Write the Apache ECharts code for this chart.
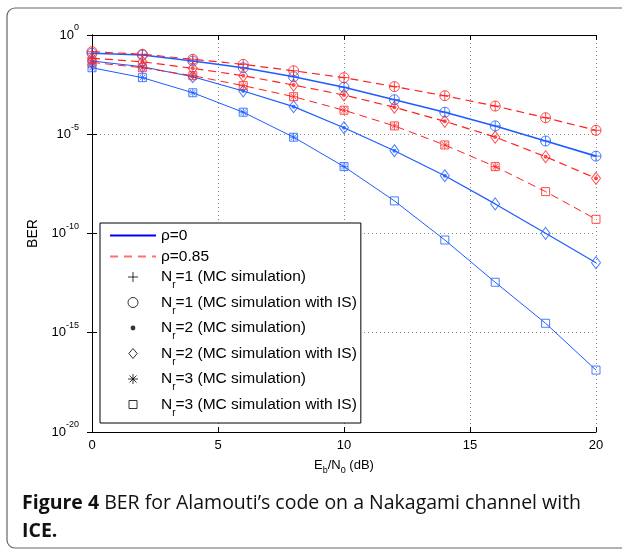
<!DOCTYPE html>
<html>
<head>
<meta charset="utf-8">
<script src="https://cdn.jsdelivr.net/npm/echarts@6/dist/echarts.min.js"></script>
<style>
html, body {margin: 0; padding: 0; background: #fff;}
#main {width: 622px; height: 550px;}
</style>
</head>
<body>
<div id="main"></div>
<script>
// Eb/N0 (dB)
let snr = [0, 2, 4, 6, 8, 10, 12, 14, 16, 18, 20];

// rho = 0 (solid blue)
let berRho0Nr1 = [0.120, 0.0977, 0.049, 0.0224, 7.9e-3, 2.34e-3, 5.5e-4, 1.29e-4, 2.63e-5, 4.57e-6, 7.9e-7];
let berRho0Nr2 = [0.049, 0.0251, 7.9e-3, 1.51e-3, 2.45e-4, 2.14e-5, 1.48e-6, 8.1e-8, 3.1e-9, 1.02e-10, 3.4e-12];
let berRho0Nr3 = [0.0224, 7.1e-3, 1.23e-3, 1.29e-4, 7.1e-6, 2.34e-7, 4.4e-9, 4.7e-11, 3.5e-13, 3.0e-15, 1.32e-17];

// rho = 0.85 (dashed red)
let berRho85Nr1 = [0.145, 0.107, 0.060, 0.0331, 0.0158, 7.1e-3, 2.5e-3, 8.7e-4, 2.63e-4, 6.8e-5, 1.58e-5];
let berRho85Nr2 = [0.0676, 0.0447, 0.0209, 8.9e-3, 3.0e-3, 9.5e-4, 2.29e-4, 4.47e-5, 7.2e-6, 7.4e-7, 6.0e-8];
let berRho85Nr3 = [0.0417, 0.0224, 8.9e-3, 2.82e-3, 7.8e-4, 1.62e-4, 2.63e-5, 2.88e-6, 2.34e-7, 1.29e-8, 5.2e-10];

// how many snr points also carry a plain MC marker (Nr = 1, 2, 3)
let mcCountRho0 = [11, 8, 6];
let mcCountRho85 = [11, 11, 9];

let yTicks = [1, 1e-5, 1e-10, 1e-15, 1e-20];

let legendNames = ['ρ=0', 'ρ=0.85',
    'Nr=1 (MC simulation)', 'Nr=1 (MC simulation with IS)',
    'Nr=2 (MC simulation)', 'Nr=2 (MC simulation with IS)',
    'Nr=3 (MC simulation)', 'Nr=3 (MC simulation with IS)'];

let blue = '#1d5cff', red = '#ff2020';
let axisFont = 'Liberation Sans, Arial, sans-serif';

let plusPath = 'path://M5,0L5,10M0,5L10,5';
let starPath = 'path://M5,0L5,10M0,5L10,5M1.5,1.5L8.5,8.5M8.5,1.5L1.5,8.5';
let dotPath = 'path://M0,0M10,10M5,2.6A2.4,2.4,0,1,1,5,7.4A2.4,2.4,0,1,1,5,2.6Z';
let circlePath = 'path://M5,0A5,5,0,1,1,5,10A5,5,0,1,1,5,0Z';
let diamondPath = 'path://M5,0L10,6L5,12L0,6Z';
let squarePath = 'path://M0,0M10,10M1,1L9,1L9,9L1,9Z';

let isSymbol = ['circle', 'diamond', 'rect'];
let isSize = [10, [9, 12], 8];
let mcSymbol = [plusPath, 'circle', starPath];
let mcSize = [10, 4, 8];

let pairs = (arr, n) => snr.slice(0, n).map((x, i) => [x, arr[i]]);

let series = [];

let addCurve = (arr, nr, color, dashed, width, mcCount) => {
    series.push({
        type: 'line', data: pairs(arr, snr.length), symbol: 'none', silent: true, z: 2,
        lineStyle: {color: color, width: width, type: dashed ? [8, 5] : 'solid'}
    });
    series.push({
        type: 'scatter', data: pairs(arr, snr.length), symbol: isSymbol[nr], symbolSize: isSize[nr], silent: true, z: 3,
        itemStyle: {color: 'rgba(0,0,0,0)', borderColor: color, borderWidth: 1}
    });
    let dot = nr === 1;
    series.push({
        type: 'scatter', data: pairs(arr, mcCount), symbol: mcSymbol[nr], symbolSize: mcSize[nr], silent: true, z: 4,
        itemStyle: dot ? {color: color} : {color: 'rgba(0,0,0,0)', borderColor: color, borderWidth: 1}
    });
};

addCurve(berRho0Nr1, 0, blue, false, 1.6, mcCountRho0[0]);
addCurve(berRho0Nr2, 1, blue, false, 1.2, mcCountRho0[1]);
addCurve(berRho0Nr3, 2, blue, false, 1, mcCountRho0[2]);
addCurve(berRho85Nr1, 0, red, true, 1.2, mcCountRho85[0]);
addCurve(berRho85Nr2, 1, red, true, 1.2, mcCountRho85[1]);
addCurve(berRho85Nr3, 2, red, true, 1, mcCountRho85[2]);

// legend-only series
series.push({name: legendNames[0], type: 'line', data: [], symbol: 'none', lineStyle: {color: '#0000ff', width: 1}, itemStyle: {color: '#0000ff', opacity: 0}});
series.push({name: legendNames[1], type: 'line', data: [], symbol: 'none', lineStyle: {color: '#ff7070', width: 1, type: [8, 6]}, itemStyle: {color: '#ff7070', opacity: 0}});
let legendSymbols = [plusPath, circlePath, dotPath, diamondPath, starPath, squarePath];
legendSymbols.forEach((s, i) => {
    series.push({
        name: legendNames[i + 2], type: 'scatter', data: [], symbol: s,
        itemStyle: s === dotPath ? {color: '#000'} : {color: 'rgba(0,0,0,0)', borderColor: '#000', borderWidth: 1}
    });
});

let legendData = legendNames.map((n, i) => i < 2 ? {name: n, itemStyle: {opacity: 0}} : {name: n});

let chart = echarts.init(document.getElementById('main'));
chart.setOption({
    animation: false,
    backgroundColor: '#fff',
    grid: {left: 92, right: 26, top: 35, bottom: 118},
    legend: {
        data: legendData,
        orient: 'vertical',
        left: 100, top: 223,
        padding: [4, 4, 5, 9],
        itemWidth: 46, itemHeight: 10, itemGap: 4,
        borderColor: '#000', borderWidth: 1, backgroundColor: '#fff',
        selectedMode: false,
        itemStyle: {borderWidth: 1},
        textStyle: {
            color: '#000', fontFamily: axisFont, fontSize: 15.5,
            rich: {
                n: {fontFamily: axisFont, fontSize: 15.5, lineHeight: 16, verticalAlign: 'top', color: '#000'},
                sub: {fontFamily: axisFont, fontSize: 10, lineHeight: 10, padding: [11.5, 0, 0, 0], verticalAlign: 'top', color: '#000'},
                p: {fontFamily: axisFont, fontSize: 15.5, lineHeight: 16, padding: [0.5, 0, 0.5, 0], color: '#000'}
            }
        },
        formatter: name => name.indexOf('Nr=') === 0 ? '{n|N}{sub|r}{n|' + name.slice(2) + '}' : '{p|' + name + '}'
    },
    xAxis: [{
        type: 'value', min: 0, max: 20, interval: 5, position: 'bottom',
        axisLine: {onZero: false, lineStyle: {color: '#000', width: 1}},
        axisTick: {inside: true, length: 5, lineStyle: {color: '#000'}},
        axisLabel: {color: '#000', fontFamily: axisFont, fontSize: 13, margin: 7},
        splitLine: {show: true, lineStyle: {color: '#888', width: 1, type: [1, 3]}},
        name: 'E{sub|b}/N{sub|0} (dB)', nameLocation: 'middle', nameGap: 24,
        nameTextStyle: {
            color: '#000', fontFamily: axisFont, fontSize: 13,
            rich: {sub: {fontFamily: axisFont, fontSize: 9, lineHeight: 9, padding: [9, 0, 0, 0], color: '#000'}}
        }
    }, {
        type: 'value', min: 0, max: 20, interval: 5, position: 'top',
        axisLine: {onZero: false, lineStyle: {color: '#000', width: 1}},
        axisTick: {inside: true, length: 5, lineStyle: {color: '#000'}},
        axisLabel: {show: false}, splitLine: {show: false}
    }],
    yAxis: [{
        type: 'log', logBase: 10, min: yTicks[yTicks.length - 1], max: yTicks[0], interval: 5,
        axisLine: {lineStyle: {color: '#000', width: 1}},
        axisTick: {inside: true, length: 5, lineStyle: {color: '#000'}},
        axisLabel: {
            margin: 13, color: '#000',
            formatter: v => '{n|10}{sup|' + Math.round(Math.log10(v)) + '}',
            rich: {
                n: {fontFamily: axisFont, fontSize: 13, lineHeight: 14, color: '#000'},
                sup: {fontFamily: axisFont, fontSize: 9, lineHeight: 9, padding: [0, 0, 14, 0], color: '#000'}
            }
        },
        splitLine: {show: true, lineStyle: {color: '#888', width: 1, type: [1, 3]}},
        name: 'BER', nameLocation: 'middle', nameGap: 35,
        nameTextStyle: {color: '#000', fontFamily: axisFont, fontSize: 14}
    }, {
        type: 'log', logBase: 10, min: yTicks[yTicks.length - 1], max: yTicks[0], interval: 5, position: 'right',
        axisLine: {lineStyle: {color: '#000', width: 1}},
        axisTick: {inside: true, length: 5, lineStyle: {color: '#000'}},
        axisLabel: {show: false}, splitLine: {show: false}
    }],
    graphic: [{
        type: 'rect', silent: true, z: -1,
        shape: {x: 7, y: 8, width: 700, height: 540, r: 8},
        style: {fill: 'none', stroke: '#666', lineWidth: 1.2}
    }, {
        type: 'text', left: 22, top: 493, silent: true,
        style: {
            text: '{b|Figure 4} BER for Alamouti’s code on a Nakagami channel with',
            font: '19.5px "Open Sans"', fill: '#111',
            rich: {b: {fontWeight: 'bold', fontFamily: 'Open Sans', fontSize: 19.5, fill: '#111'}}
        }
    }, {
        type: 'text', left: 22, top: 521, silent: true,
        style: {text: 'ICE.', font: 'bold 19.5px "Open Sans"', fill: '#111'}
    }],
    series: series
});
</script>
</body>
</html>
